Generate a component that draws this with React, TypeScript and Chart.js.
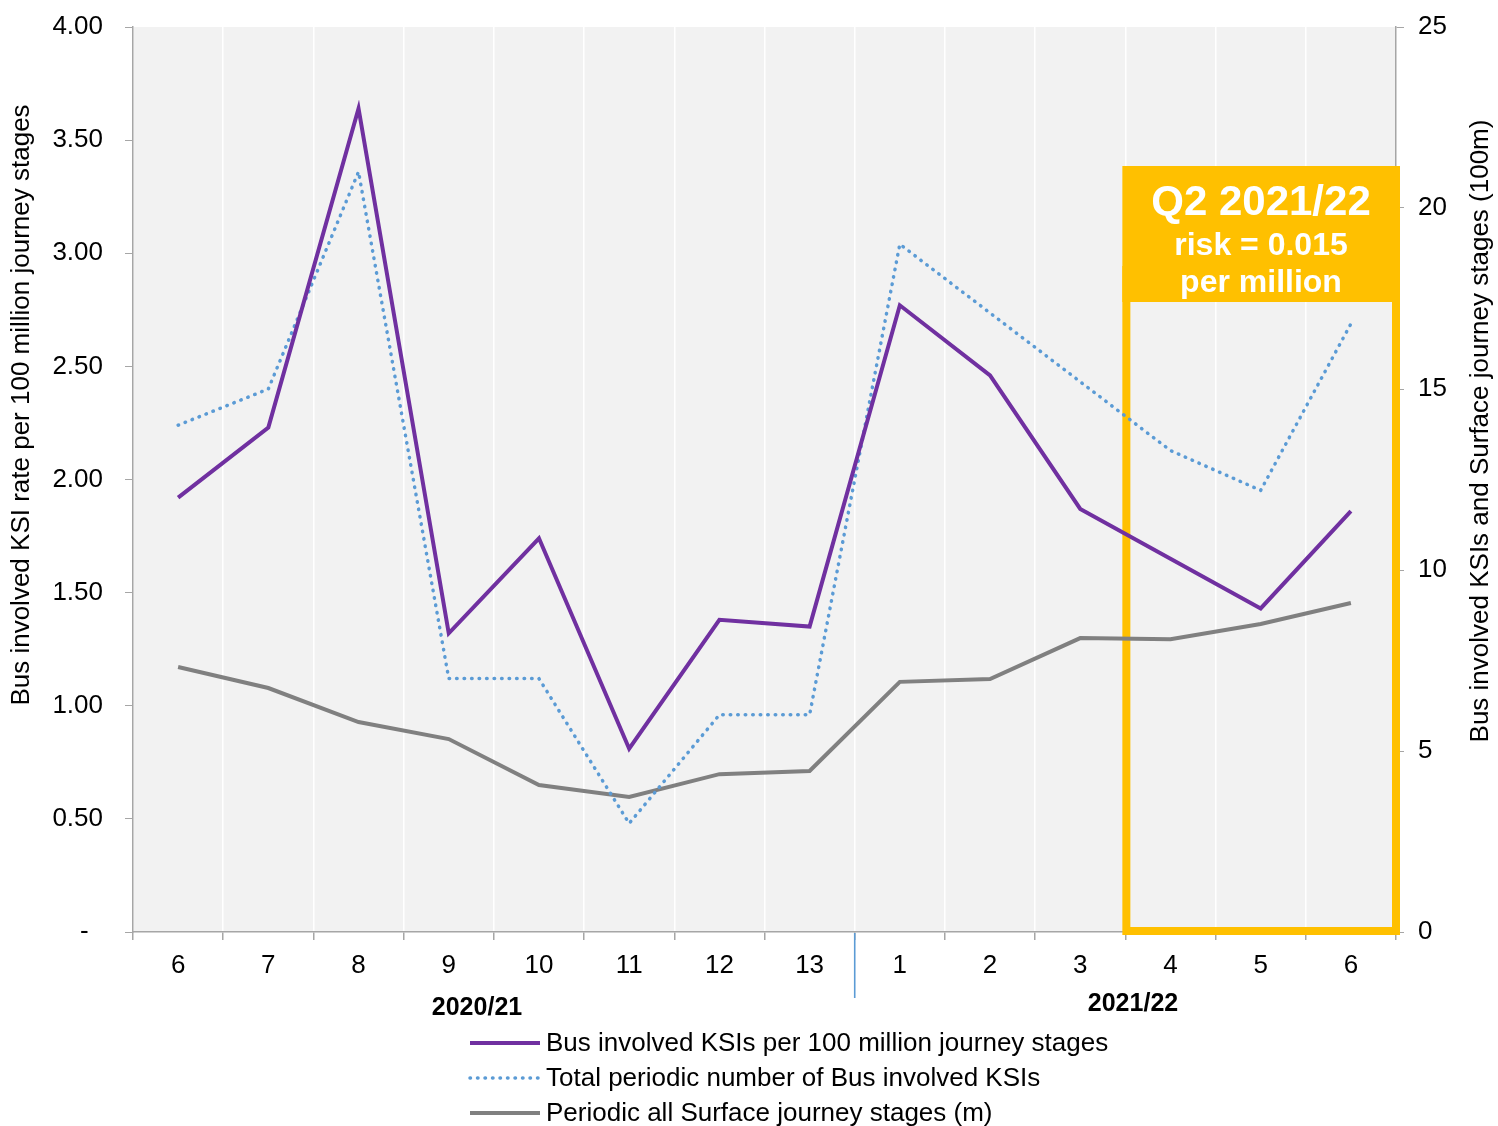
import React, { useEffect, useRef } from 'react';
import { Chart, registerables } from 'chart.js';

Chart.register(...registerables);

const categories = ['6', '7', '8', '9', '10', '11', '12', '13', '1', '2', '3', '4', '5', '6'];
const rateSeries = [1.92, 2.23, 3.64, 1.32, 1.74, 0.81, 1.38, 1.35, 2.77, 2.46, 1.87, 1.65, 1.43, 1.86];
const ksiSeries = [14, 15, 21, 7, 7, 3, 6, 6, 19, 17.1, 15.2, 13.3, 12.2, 16.8];
const journeySeries = [7.32, 6.74, 5.8, 5.33, 4.06, 3.73, 4.36, 4.45, 6.91, 6.99, 8.12, 8.09, 8.51, 9.09];
const seriesNames = [
  'Bus involved KSIs per 100 million journey stages',
  'Total periodic number of Bus involved KSIs',
  'Periodic all Surface journey stages (m)',
];
const yearLabels = ['2020/21', '2021/22'];
const boxLines = ['Q2 2021/22', 'risk = 0.015', 'per million'];
const leftTitle = 'Bus involved KSI rate per 100 million journey stages';
const rightTitle = 'Bus involved KSIs and Surface journey stages (100m)';

const FONT = "'Liberation Sans', Arial, sans-serif";
const PURPLE = '#7030a0';
const BLUE = '#5b9bd5';
const GREY = '#808080';
const YELLOW = '#ffc000';
const TXT = 26;

export default function App() {
  const ref = useRef<HTMLCanvasElement>(null);

  useEffect(() => {
    const canvas = ref.current;
    if (!canvas) return;

    const overlay = {
      id: 'overlay',
      beforeDraw(chart: any) {
        const { ctx, chartArea: a } = chart;
        ctx.save();
        ctx.fillStyle = '#f2f2f2';
        ctx.fillRect(a.left, a.top, a.right - a.left, a.bottom - a.top);
        ctx.restore();
      },
      beforeDatasetsDraw(chart: any) {
        const { ctx, chartArea: a } = chart;
        const x = chart.scales.x;
        const left = (x.getPixelForValue(10) + x.getPixelForValue(11)) / 2 + 1;
        const right = a.right;
        const bottom = a.bottom - 1;
        const top = 166;
        const bw = 8;
        ctx.save();
        ctx.fillStyle = YELLOW;
        ctx.fillRect(left - bw / 2, top, right - left + bw, 136);
        ctx.strokeStyle = YELLOW;
        ctx.lineWidth = bw;
        ctx.beginPath();
        ctx.moveTo(left, top + 100);
        ctx.lineTo(left, bottom);
        ctx.lineTo(right, bottom);
        ctx.lineTo(right, top + 100);
        ctx.stroke();
        ctx.restore();
      },
      afterDraw(chart: any) {
        const { ctx, chartArea: a } = chart;
        const x = chart.scales.x;
        ctx.save();
        // box text
        const cx = 1261;
        ctx.fillStyle = '#ffffff';
        ctx.textAlign = 'center';
        ctx.textBaseline = 'middle';
        ctx.font = `bold 42px ${FONT}`;
        ctx.fillText(boxLines[0], cx, 203);
        ctx.font = `bold 32px ${FONT}`;
        ctx.fillText(boxLines[1], cx, 246);
        ctx.fillText(boxLines[2], cx, 283);

        // divider
        const divX = (x.getPixelForValue(7) + x.getPixelForValue(8)) / 2;
        ctx.strokeStyle = BLUE;
        ctx.lineWidth = 1.6;
        ctx.beginPath();
        ctx.moveTo(divX, a.bottom + 1);
        ctx.lineTo(divX, 998);
        ctx.stroke();

        // year labels
        ctx.fillStyle = '#000';
        ctx.font = `bold 25px ${FONT}`;
        ctx.fillText(yearLabels[0], 477, 1008);
        ctx.fillText(yearLabels[1], 1133, 1004);

        // axis titles
        ctx.font = `${TXT}px ${FONT}`;
        ctx.save();
        ctx.translate(22, 405);
        ctx.rotate(-Math.PI / 2);
        ctx.fillText(leftTitle, 0, 0);
        ctx.restore();
        ctx.save();
        ctx.translate(1481, 431);
        ctx.rotate(-Math.PI / 2);
        ctx.fillText(rightTitle, 0, 0);
        ctx.restore();

        // legend
        const colors = [PURPLE, BLUE, GREY];
        const ys = [1043, 1078, 1113];
        ctx.textAlign = 'left';
        ctx.font = `${TXT}px ${FONT}`;
        for (let i = 0; i < 3; i++) {
          ctx.strokeStyle = colors[i];
          ctx.lineWidth = i === 1 ? 3.5 : 4;
          ctx.lineCap = i === 1 ? 'round' : 'butt';
          ctx.setLineDash(i === 1 ? [0.5, 7] : []);
          ctx.beginPath();
          ctx.moveTo(470, ys[i]);
          ctx.lineTo(540, ys[i]);
          ctx.stroke();
          ctx.setLineDash([]);
          ctx.fillStyle = '#000';
          ctx.fillText(seriesNames[i], 546, ys[i] + 1);
        }
        ctx.restore();
      },
    };

    const chart = new Chart(canvas, {
      type: 'line',
      data: {
        labels: categories,
        datasets: [
          {
            label: seriesNames[0],
            data: rateSeries,
            yAxisID: 'y',
            borderColor: PURPLE,
            backgroundColor: PURPLE,
            borderWidth: 4,
            pointRadius: 0,
            tension: 0,
          },
          {
            label: seriesNames[1],
            data: ksiSeries,
            yAxisID: 'y1',
            borderColor: BLUE,
            backgroundColor: BLUE,
            borderWidth: 3.5,
            borderDash: [0.5, 7],
            borderCapStyle: 'round',
            pointRadius: 0,
            tension: 0,
          },
          {
            label: seriesNames[2],
            data: journeySeries,
            yAxisID: 'y1',
            borderColor: GREY,
            backgroundColor: GREY,
            borderWidth: 4,
            pointRadius: 0,
            tension: 0,
          },
        ],
      },
      options: {
        responsive: false,
        animation: false,
        devicePixelRatio: 1,
        layout: { padding: { top: 27, left: 0, right: 0, bottom: 0 } },
        plugins: {
          legend: { display: false },
          tooltip: { enabled: false },
          title: { display: false },
        },
        scales: {
          x: {
            type: 'category',
            offset: true,
            grid: {
              offset: true,
              color: '#ffffff',
              lineWidth: 1.5,
              tickColor: '#a6a6a6',
              tickLength: 8,
              drawOnChartArea: true,
            },
            border: { color: '#a6a6a6', width: 1.5 },
            ticks: {
              color: '#000',
              font: { family: FONT, size: TXT },
              padding: 10,
              maxRotation: 0,
              autoSkip: false,
            },
            afterFit(scale: any) {
              scale.height = 194;
              scale.paddingLeft = 0;
              scale.paddingRight = 0;
            },
          },
          y: {
            type: 'linear',
            position: 'left',
            min: 0,
            max: 4,
            ticks: {
              stepSize: 0.5,
              color: '#000',
              font: { family: FONT, size: TXT },
              padding: 22,
              callback: (v: any) => (Number(v) === 0 ? '-  ' : Number(v).toFixed(2)),
            },
            grid: {
              drawOnChartArea: false,
              tickColor: '#a6a6a6',
              tickLength: 8,
            },
            border: { color: '#a6a6a6', width: 1.5 },
            afterFit(scale: any) {
              scale.width = 133;
              scale.paddingTop = 0;
              scale.paddingBottom = 0;
            },
          },
          y1: {
            type: 'linear',
            position: 'right',
            min: 0,
            max: 25,
            ticks: {
              stepSize: 5,
              color: '#000',
              font: { family: FONT, size: TXT },
              padding: 14,
            },
            grid: {
              drawOnChartArea: false,
              tickColor: '#a6a6a6',
              tickLength: 8,
            },
            border: { color: '#a6a6a6', width: 1.5 },
            afterFit(scale: any) {
              scale.width = 102;
              scale.paddingTop = 0;
              scale.paddingBottom = 0;
            },
          },
        },
      },
      plugins: [overlay],
    } as any);

    return () => chart.destroy();
  }, []);

  return (
    <div style={{ position: 'fixed', left: 0, top: 0, width: 1498, height: 1126, background: '#fff' }}>
      <canvas ref={ref} width={1498} height={1126} style={{ width: 1498, height: 1126, display: 'block' }} />
    </div>
  );
}
